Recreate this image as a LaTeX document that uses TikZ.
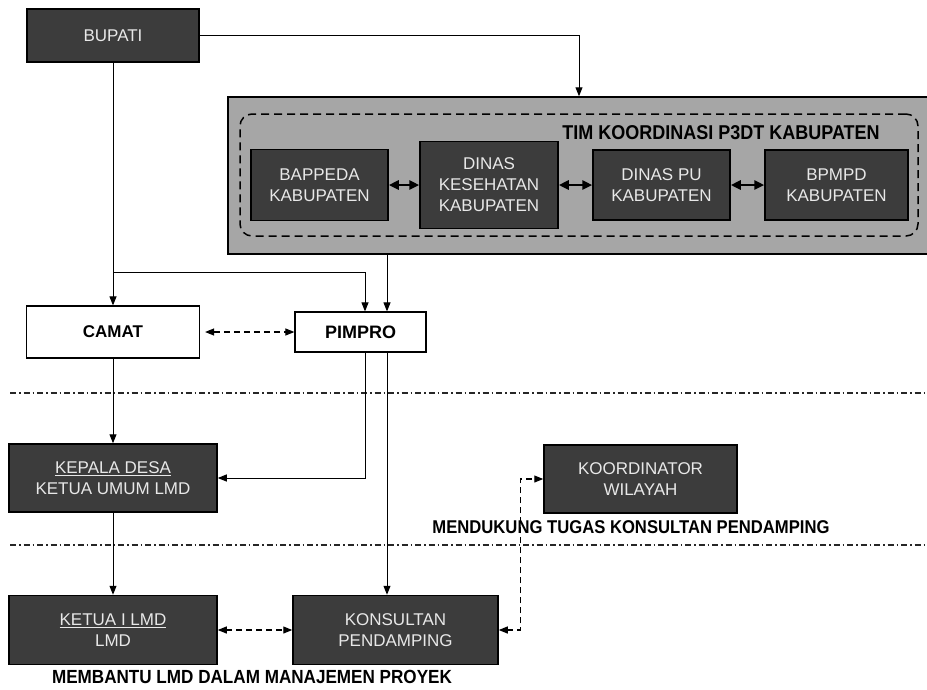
\documentclass[tikz,border=0pt]{standalone}
\usepackage{fontspec}
\setmainfont{Liberation Sans}
\newfontfamily\narrowfont[FakeStretch=0.9]{Liberation Sans}
\usetikzlibrary{positioning, arrows.meta}
\definecolor{unitdark}{RGB}{60, 60, 60}
\definecolor{unitgrey}{RGB}{166, 166, 166}
\definecolor{unittext}{RGB}{232, 232, 232}
\tikzset{
  unit/.style={
    draw=black,
    line width=1.5pt,
    fill=unitdark,
    text=unittext,
    align=center,
    inner sep=2pt,
    font=\fontsize{17}{21}\selectfont
  },
  plainunit/.style={
    draw=black,
    line width=1.2pt,
    fill=white,
    align=center,
    font=\fontsize{#1}{#1}\selectfont\bfseries
  },
  teambox/.style={
    draw=black,
    line width=1.5pt,
    fill=unitgrey
  },
  teamframe/.style={
    draw=black,
    line width=1.5pt,
    dash pattern=on 8pt off 5pt,
    rounded corners=12pt
  },
  caption/.style={
    text=black,
    font=\narrowfont\bfseries\fontsize{#1}{#1}\selectfont
  },
  link/.style={
    -{Triangle[length=9pt,width=7pt]},
    line width=1pt,
    draw=black
  },
  duallink/.style={
    {Triangle[length=9pt,width=7pt]}-{Triangle[length=9pt,width=7pt]},
    line width=1.1pt,
    dash pattern=on 6pt off 4pt,
    draw=black
  },
  teamlink/.style={
    {Triangle[length=10pt,width=9pt]}-{Triangle[length=10pt,width=9pt]},
    line width=2.5pt,
    draw=black
  },
  divider/.style={
    line width=1.4pt,
    dash pattern=on 6pt off 3pt on 1.5pt off 3pt,
    draw=black!85
  }
}

\begin{document}
\begin{tikzpicture}[x=1pt, y=-1pt]
          \useasboundingbox[fill=white] (0,0) rectangle (927,689);

          % kabupaten level
          \node[unit, minimum width=172pt, minimum height=53pt] (bupati) at (113, 35.5) {BUPATI};
          \node[teambox, minimum width=702pt, minimum height=157pt] (team) at (579, 175.5) {};
          \node[teamframe, minimum width=678pt, minimum height=122pt] (frame) at (579, 175) {};
          \node[caption=20] (teamname) at (721, 133) {TIM KOORDINASI P3DT KABUPATEN};
          \node[unit, minimum width=137pt, minimum height=71pt] (bappeda) at (319.5, 185) {BAPPEDA\\KABUPATEN};
          \node[unit, minimum width=138pt, minimum height=87pt] (dinkes) at (489, 185) {DINAS\\KESEHATAN\\KABUPATEN};
          \node[unit, minimum width=137pt, minimum height=70pt] (dinaspu) at (661.5, 185) {DINAS PU\\KABUPATEN};
          \node[unit, minimum width=143pt, minimum height=70pt] (bpmpd) at (836.5, 185) {BPMPD\\KABUPATEN};

          % kecamatan and desa level
          \node[plainunit=17, minimum width=173pt, minimum height=52pt] (camat) at (113, 332) {CAMAT};
          \node[plainunit=18, minimum width=131pt, minimum height=40pt] (pimpro) at (360.5, 332) {PIMPRO};
          \node[unit, minimum width=208pt, minimum height=68pt] (kepala) at (113, 478) {\underline{KEPALA DESA}\\KETUA UMUM LMD};
          \node[unit, minimum width=193pt, minimum height=68pt] (koordinator) at (640.5, 479) {KOORDINATOR\\WILAYAH};
          \node[caption=18.5] (support) at (631, 527) {MENDUKUNG TUGAS KONSULTAN PENDAMPING};
          \node[unit, minimum width=208pt, minimum height=69pt] (ketua) at (113, 630) {\underline{KETUA I LMD}\\LMD};
          \node[unit, minimum width=205pt, minimum height=69pt] (konsultan) at (395.5, 630) {KONSULTAN\\PENDAMPING};
          \node[caption=19] (assist) at (252, 677) {MEMBANTU LMD DALAM MANAJEMEN PROYEK};

          \draw[divider] (10, 393) -- (927, 393);
          \draw[divider] (10, 545) -- (927, 545);

          \coordinate (fork) at (113, 272);
          \coordinate (pimproL) at ([xshift=4.5pt]pimpro.north);
          \coordinate (pimproR) at ([xshift=26.5pt]pimpro.north);

          \draw[link] (bupati.east) -| (team.north);
          \draw[link] (bupati.south) -- (camat.north);
          \draw[link] (fork) -| (pimproL);
          \draw[link] (pimproR |- team.south) -- (pimproR);
          \draw[link] (camat.south) -- (kepala.north);
          \draw[link] (pimproL |- pimpro.south) |- (kepala.east);
          \draw[link] (pimproR |- pimpro.south) -- (pimproR |- konsultan.north);
          \draw[link] (kepala.south) -- (ketua.north);

          \draw[teamlink] (bappeda.east) -- (dinkes.west);
          \draw[teamlink] (dinkes.east) -- (dinaspu.west);
          \draw[teamlink] (dinaspu.east) -- (bpmpd.west);

          \draw[duallink, shorten <=5pt] (camat.east) -- (pimpro.west);
          \draw[duallink] (ketua.east) -- (konsultan.west);
          \draw[duallink] (konsultan.east) -- ++(22, 0) |- (koordinator.west);
        \end{tikzpicture}
\end{document}
